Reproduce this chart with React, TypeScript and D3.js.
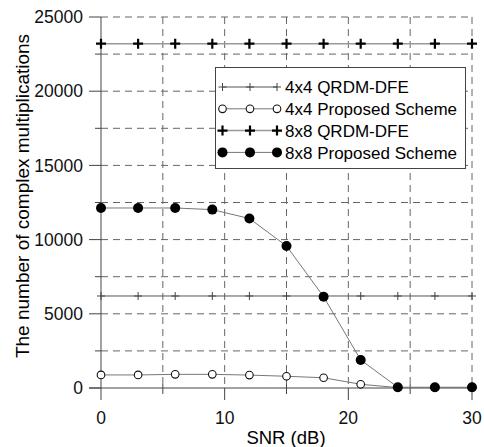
import React, { useEffect, useRef } from 'react';
import * as d3 from 'd3';

const snr = [0, 3, 6, 9, 12, 15, 18, 21, 24, 27, 30];
const qrdm4 = [6200, 6200, 6200, 6200, 6200, 6200, 6200, 6200, 6200, 6200, 6200];
const prop4 = [880, 880, 920, 920, 870, 790, 690, 250, 30, 30, 30];
const qrdm8 = [23200, 23200, 23200, 23200, 23200, 23200, 23200, 23200, 23200, 23200, 23200];
const prop8 = [12130, 12130, 12130, 12020, 11420, 9570, 6150, 1890, 50, 50, 50];

const legendLabels = ['4x4 QRDM-DFE', '4x4 Proposed Scheme', '8x8 QRDM-DFE', '8x8 Proposed Scheme'];
const xTicks = [0, 10, 20, 30];
const yTicks = [0, 5000, 10000, 15000, 20000, 25000];

const FONT = 'Liberation Sans, Arial, sans-serif';

export default function App() {
  const ref = useRef<SVGSVGElement>(null);

  useEffect(() => {
    const svg = d3.select(ref.current);
    svg.selectAll('*').remove();
    const left = 101, right = 472, top = 17, bottom = 388;
    const x = d3.scaleLinear().domain([0, 30]).range([left, right]);
    const y = d3.scaleLinear().domain([0, 25000]).range([bottom, top]);

    const g = svg.append('g');

    // dashed grid
    const grid = g.append('g').attr('stroke', '#666').attr('stroke-dasharray', '7,5').attr('fill', 'none');
    d3.range(5, 31, 5).forEach(v => {
      grid.append('line').attr('x1', x(v)).attr('x2', x(v)).attr('y1', top).attr('y2', bottom);
    });
    d3.range(2500, 25001, 2500).forEach(v => {
      grid.append('line').attr('x1', left).attr('x2', right).attr('y1', y(v)).attr('y2', y(v));
    });

    // axes
    const ax = g.append('g').attr('stroke', '#444').attr('fill', 'none');
    ax.append('line').attr('x1', left).attr('x2', left).attr('y1', top).attr('y2', bottom + 12);
    ax.append('line').attr('x1', left - 12).attr('x2', right).attr('y1', bottom).attr('y2', bottom);
    d3.range(0, 25001, 2500).forEach(v => {
      const major = v % 5000 === 0;
      ax.append('line').attr('x1', left - (major ? 12 : 6)).attr('x2', left).attr('y1', y(v)).attr('y2', y(v));
    });
    d3.range(5, 31, 5).forEach(v => {
      const major = v % 10 === 0;
      ax.append('line').attr('x1', x(v)).attr('x2', x(v)).attr('y1', bottom - (major ? 0 : 4)).attr('y2', bottom + (major ? 12 : 6));
    });

    g.append('g').selectAll('text').data(xTicks).enter().append('text')
      .attr('x', d => x(d)).attr('y', 424).attr('text-anchor', 'middle')
      .attr('font-family', FONT).attr('font-size', 17.5).attr('fill', '#111').text(d => d);
    g.append('g').selectAll('text').data(yTicks).enter().append('text')
      .attr('x', 83).attr('y', d => y(d)).attr('dy', '0.35em').attr('text-anchor', 'end')
      .attr('font-family', FONT).attr('font-size', 17.5).attr('fill', '#111').text(d => d);

    g.append('text').attr('x', 286).attr('y', 444).attr('text-anchor', 'middle')
      .attr('font-family', FONT).attr('font-size', 18.5).attr('fill', '#000').text('SNR (dB)');
    g.append('text').attr('transform', `translate(29,196) rotate(-90)`)
      .attr('text-anchor', 'middle').attr('font-family', FONT).attr('font-size', 19).attr('fill', '#000')
      .text('The number of complex multiplications');

    const line = d3.line<number>().x((d, i) => x(snr[i])).y(d => y(d));

    const series = [
      { data: qrdm4, stroke: '#555', width: 1, marker: 'thinplus' },
      { data: prop4, stroke: '#777', width: 1, marker: 'open' },
      { data: qrdm8, stroke: '#999', width: 1.5, marker: 'boldplus' },
      { data: prop8, stroke: '#777', width: 1, marker: 'dot' },
    ];

    const drawMarker = (sel: any, kind: string, cx: number, cy: number) => {
      if (kind === 'thinplus') {
        sel.append('line').attr('x1', cx).attr('x2', cx).attr('y1', cy - 4).attr('y2', cy + 4).attr('stroke', '#444');
        sel.append('line').attr('x1', cx - 4).attr('x2', cx + 4).attr('y1', cy).attr('y2', cy).attr('stroke', '#444');
      } else if (kind === 'boldplus') {
        sel.append('path').attr('d', `M${cx - 5},${cy}H${cx + 5}M${cx},${cy - 5}V${cy + 5}`)
          .attr('stroke', '#000').attr('stroke-width', 2.2);
      } else if (kind === 'open') {
        sel.append('circle').attr('cx', cx).attr('cy', cy).attr('r', 3.8)
          .attr('fill', '#fff').attr('stroke', '#111').attr('stroke-width', 1.1);
      } else {
        sel.append('circle').attr('cx', cx).attr('cy', cy).attr('r', 5).attr('fill', '#000');
      }
    };

    series.forEach(s => {
      g.append('path').attr('d', line(s.data)).attr('fill', 'none')
        .attr('stroke', s.stroke).attr('stroke-width', s.width);
    });
    series.forEach(s => {
      const mg = g.append('g');
      s.data.forEach((v, i) => drawMarker(mg, s.marker, x(snr[i]), y(v)));
    });

    // legend
    const lg = g.append('g');
    lg.append('rect').attr('x', 215.5).attr('y', 67.5).attr('width', 250).attr('height', 101)
      .attr('fill', '#fff').attr('stroke', '#444');
    series.forEach((s, i) => {
      const ry = 87 + i * 21.8;
      lg.append('line').attr('x1', 222.5).attr('x2', 277).attr('y1', ry).attr('y2', ry)
        .attr('stroke', s.stroke).attr('stroke-width', s.width);
      [222.5, 250, 277].forEach(mx => drawMarker(lg, s.marker, mx, ry));
      lg.append('text').attr('x', 285).attr('y', ry).attr('dy', '0.36em')
        .attr('font-family', FONT).attr('font-size', 17).attr('fill', '#000').text(legendLabels[i]);
    });
  }, []);

  return (
    <div>
      <svg ref={ref} width='484' height='447' style={{ position: 'absolute', left: 0, top: 0, background: '#fff' }}></svg>
    </div>
  );
}
